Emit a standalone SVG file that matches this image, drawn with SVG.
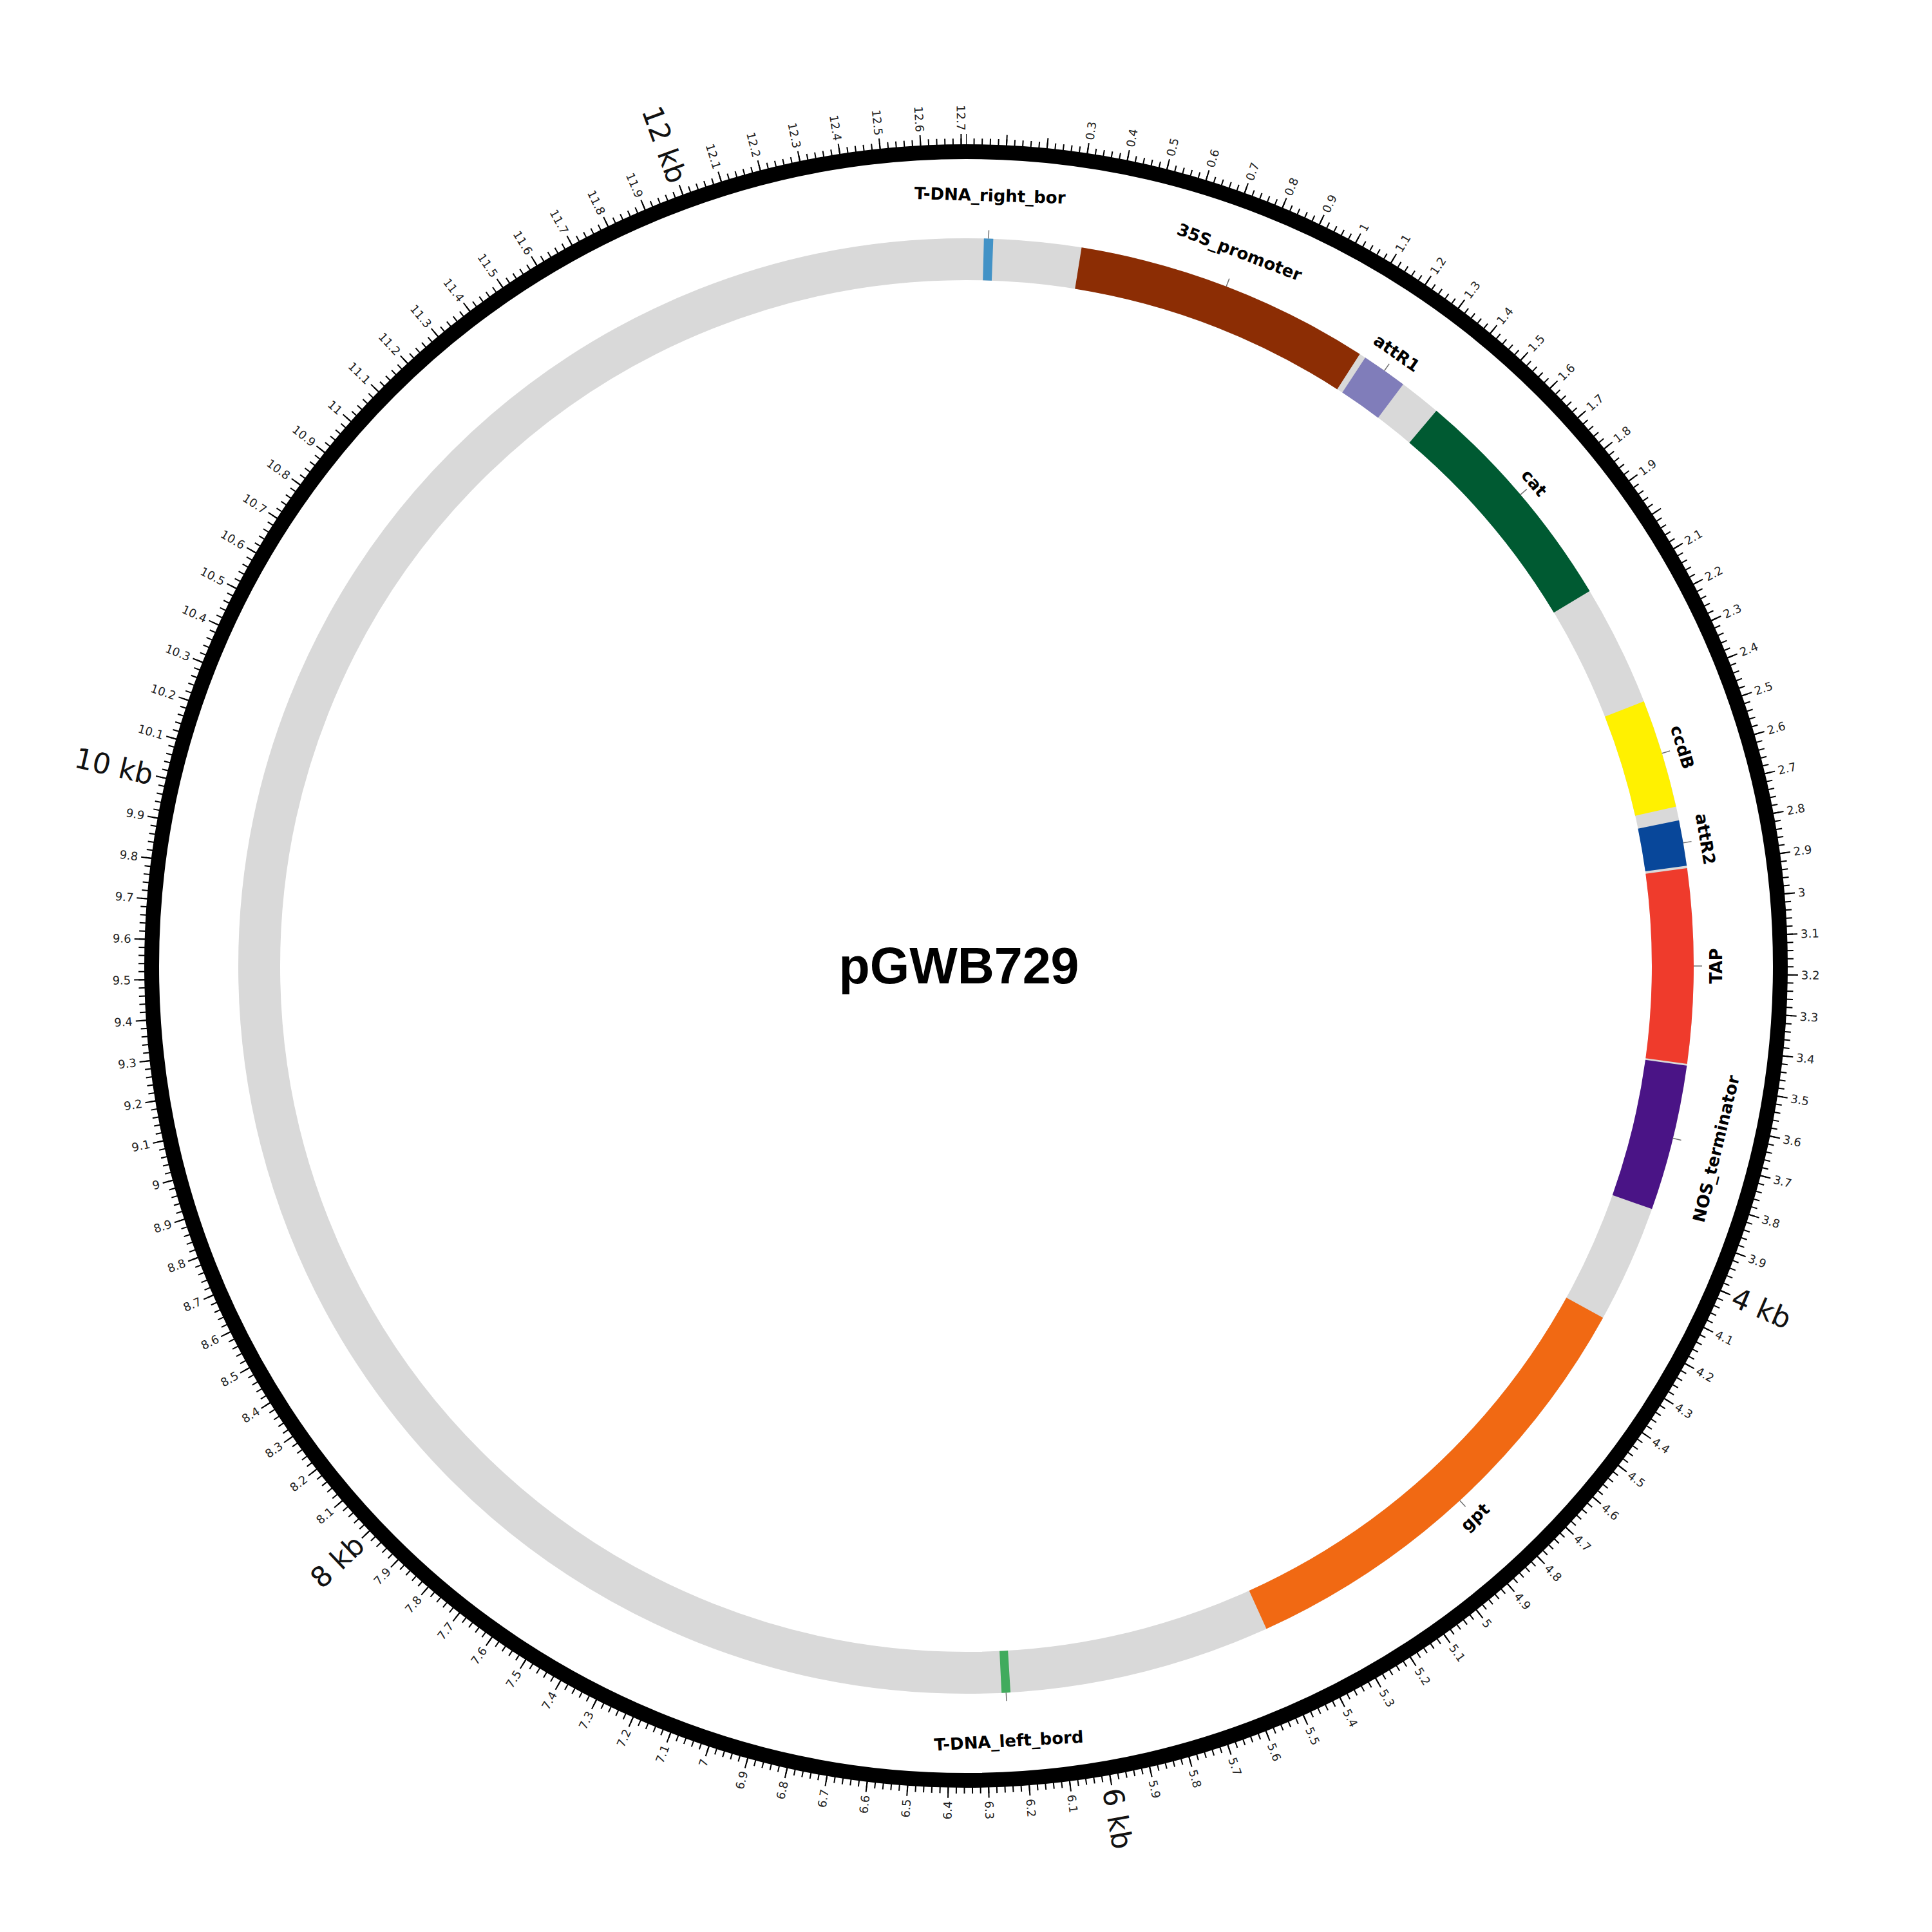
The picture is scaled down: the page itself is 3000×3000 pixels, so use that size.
<svg xmlns="http://www.w3.org/2000/svg" width="3000" height="3000" viewBox="0 0 3000 3000">
<style>
.tl{font-family:"DejaVu Sans",sans-serif;font-size:18px;fill:#222;dominant-baseline:central}
.r{text-anchor:start}
.l{text-anchor:end}
.kb{font-family:"DejaVu Sans",sans-serif;font-size:44px;fill:#111;dominant-baseline:central}
.fl{font-family:"DejaVu Sans",sans-serif;font-size:26px;font-weight:bold;fill:#000;text-anchor:middle;dominant-baseline:central}
.arc{fill:none;stroke-width:65}
.lead{stroke:#707070;stroke-width:1.5}
</style>
<rect width="3000" height="3000" fill="#ffffff"/>
<g transform="translate(1500,1500)">
<g id="axis">
<circle r="1264.5" fill="none" stroke="#000" stroke-width="23"/>
<circle r="1279" fill="none" stroke="#000" stroke-width="12" pathLength="12712" stroke-dasharray="3.16 16.84" stroke-dashoffset="1.58" transform="rotate(-90)"/>
<circle r="1282.5" fill="none" stroke="#000" stroke-width="19" pathLength="12712" stroke-dasharray="3.16 96.84" stroke-dashoffset="1.58" transform="rotate(-90)"/>
<g id="tick-labels">
<text class="tl r" x="1297" transform="rotate(-81.50)">0.3</text>
<text class="tl r" x="1297" transform="rotate(-78.67)">0.4</text>
<text class="tl r" x="1297" transform="rotate(-75.84)">0.5</text>
<text class="tl r" x="1297" transform="rotate(-73.01)">0.6</text>
<text class="tl r" x="1297" transform="rotate(-70.18)">0.7</text>
<text class="tl r" x="1297" transform="rotate(-67.34)">0.8</text>
<text class="tl r" x="1297" transform="rotate(-64.51)">0.9</text>
<text class="tl r" x="1297" transform="rotate(-61.68)">1</text>
<text class="tl r" x="1297" transform="rotate(-58.85)">1.1</text>
<text class="tl r" x="1297" transform="rotate(-56.02)">1.2</text>
<text class="tl r" x="1297" transform="rotate(-53.18)">1.3</text>
<text class="tl r" x="1297" transform="rotate(-50.35)">1.4</text>
<text class="tl r" x="1297" transform="rotate(-47.52)">1.5</text>
<text class="tl r" x="1297" transform="rotate(-44.69)">1.6</text>
<text class="tl r" x="1297" transform="rotate(-41.86)">1.7</text>
<text class="tl r" x="1297" transform="rotate(-39.02)">1.8</text>
<text class="tl r" x="1297" transform="rotate(-36.19)">1.9</text>
<text class="tl r" x="1297" transform="rotate(-30.53)">2.1</text>
<text class="tl r" x="1297" transform="rotate(-27.70)">2.2</text>
<text class="tl r" x="1297" transform="rotate(-24.86)">2.3</text>
<text class="tl r" x="1297" transform="rotate(-22.03)">2.4</text>
<text class="tl r" x="1297" transform="rotate(-19.20)">2.5</text>
<text class="tl r" x="1297" transform="rotate(-16.37)">2.6</text>
<text class="tl r" x="1297" transform="rotate(-13.54)">2.7</text>
<text class="tl r" x="1297" transform="rotate(-10.70)">2.8</text>
<text class="tl r" x="1297" transform="rotate(-7.87)">2.9</text>
<text class="tl r" x="1297" transform="rotate(-5.04)">3</text>
<text class="tl r" x="1297" transform="rotate(-2.21)">3.1</text>
<text class="tl r" x="1297" transform="rotate(0.62)">3.2</text>
<text class="tl r" x="1297" transform="rotate(3.46)">3.3</text>
<text class="tl r" x="1297" transform="rotate(6.29)">3.4</text>
<text class="tl r" x="1297" transform="rotate(9.12)">3.5</text>
<text class="tl r" x="1297" transform="rotate(11.95)">3.6</text>
<text class="tl r" x="1297" transform="rotate(14.78)">3.7</text>
<text class="tl r" x="1297" transform="rotate(17.62)">3.8</text>
<text class="tl r" x="1297" transform="rotate(20.45)">3.9</text>
<text class="tl r" x="1297" transform="rotate(26.11)">4.1</text>
<text class="tl r" x="1297" transform="rotate(28.94)">4.2</text>
<text class="tl r" x="1297" transform="rotate(31.78)">4.3</text>
<text class="tl r" x="1297" transform="rotate(34.61)">4.4</text>
<text class="tl r" x="1297" transform="rotate(37.44)">4.5</text>
<text class="tl r" x="1297" transform="rotate(40.27)">4.6</text>
<text class="tl r" x="1297" transform="rotate(43.10)">4.7</text>
<text class="tl r" x="1297" transform="rotate(45.94)">4.8</text>
<text class="tl r" x="1297" transform="rotate(48.77)">4.9</text>
<text class="tl r" x="1297" transform="rotate(51.60)">5</text>
<text class="tl r" x="1297" transform="rotate(54.43)">5.1</text>
<text class="tl r" x="1297" transform="rotate(57.26)">5.2</text>
<text class="tl r" x="1297" transform="rotate(60.09)">5.3</text>
<text class="tl r" x="1297" transform="rotate(62.93)">5.4</text>
<text class="tl r" x="1297" transform="rotate(65.76)">5.5</text>
<text class="tl r" x="1297" transform="rotate(68.59)">5.6</text>
<text class="tl r" x="1297" transform="rotate(71.42)">5.7</text>
<text class="tl r" x="1297" transform="rotate(74.25)">5.8</text>
<text class="tl r" x="1297" transform="rotate(77.09)">5.9</text>
<text class="tl r" x="1297" transform="rotate(82.75)">6.1</text>
<text class="tl r" x="1297" transform="rotate(85.58)">6.2</text>
<text class="tl r" x="1297" transform="rotate(88.41)">6.3</text>
<text class="tl l" x="-1297" transform="rotate(-88.75)">6.4</text>
<text class="tl l" x="-1297" transform="rotate(-85.92)">6.5</text>
<text class="tl l" x="-1297" transform="rotate(-83.09)">6.6</text>
<text class="tl l" x="-1297" transform="rotate(-80.26)">6.7</text>
<text class="tl l" x="-1297" transform="rotate(-77.43)">6.8</text>
<text class="tl l" x="-1297" transform="rotate(-74.59)">6.9</text>
<text class="tl l" x="-1297" transform="rotate(-71.76)">7</text>
<text class="tl l" x="-1297" transform="rotate(-68.93)">7.1</text>
<text class="tl l" x="-1297" transform="rotate(-66.10)">7.2</text>
<text class="tl l" x="-1297" transform="rotate(-63.27)">7.3</text>
<text class="tl l" x="-1297" transform="rotate(-60.43)">7.4</text>
<text class="tl l" x="-1297" transform="rotate(-57.60)">7.5</text>
<text class="tl l" x="-1297" transform="rotate(-54.77)">7.6</text>
<text class="tl l" x="-1297" transform="rotate(-51.94)">7.7</text>
<text class="tl l" x="-1297" transform="rotate(-49.11)">7.8</text>
<text class="tl l" x="-1297" transform="rotate(-46.27)">7.9</text>
<text class="tl l" x="-1297" transform="rotate(-40.61)">8.1</text>
<text class="tl l" x="-1297" transform="rotate(-37.78)">8.2</text>
<text class="tl l" x="-1297" transform="rotate(-34.95)">8.3</text>
<text class="tl l" x="-1297" transform="rotate(-32.11)">8.4</text>
<text class="tl l" x="-1297" transform="rotate(-29.28)">8.5</text>
<text class="tl l" x="-1297" transform="rotate(-26.45)">8.6</text>
<text class="tl l" x="-1297" transform="rotate(-23.62)">8.7</text>
<text class="tl l" x="-1297" transform="rotate(-20.79)">8.8</text>
<text class="tl l" x="-1297" transform="rotate(-17.95)">8.9</text>
<text class="tl l" x="-1297" transform="rotate(-15.12)">9</text>
<text class="tl l" x="-1297" transform="rotate(-12.29)">9.1</text>
<text class="tl l" x="-1297" transform="rotate(-9.46)">9.2</text>
<text class="tl l" x="-1297" transform="rotate(-6.63)">9.3</text>
<text class="tl l" x="-1297" transform="rotate(-3.80)">9.4</text>
<text class="tl l" x="-1297" transform="rotate(-0.96)">9.5</text>
<text class="tl l" x="-1297" transform="rotate(1.87)">9.6</text>
<text class="tl l" x="-1297" transform="rotate(4.70)">9.7</text>
<text class="tl l" x="-1297" transform="rotate(7.53)">9.8</text>
<text class="tl l" x="-1297" transform="rotate(10.37)">9.9</text>
<text class="tl l" x="-1297" transform="rotate(16.03)">10.1</text>
<text class="tl l" x="-1297" transform="rotate(18.86)">10.2</text>
<text class="tl l" x="-1297" transform="rotate(21.69)">10.3</text>
<text class="tl l" x="-1297" transform="rotate(24.53)">10.4</text>
<text class="tl l" x="-1297" transform="rotate(27.36)">10.5</text>
<text class="tl l" x="-1297" transform="rotate(30.19)">10.6</text>
<text class="tl l" x="-1297" transform="rotate(33.02)">10.7</text>
<text class="tl l" x="-1297" transform="rotate(35.85)">10.8</text>
<text class="tl l" x="-1297" transform="rotate(38.69)">10.9</text>
<text class="tl l" x="-1297" transform="rotate(41.52)">11</text>
<text class="tl l" x="-1297" transform="rotate(44.35)">11.1</text>
<text class="tl l" x="-1297" transform="rotate(47.18)">11.2</text>
<text class="tl l" x="-1297" transform="rotate(50.01)">11.3</text>
<text class="tl l" x="-1297" transform="rotate(52.85)">11.4</text>
<text class="tl l" x="-1297" transform="rotate(55.68)">11.5</text>
<text class="tl l" x="-1297" transform="rotate(58.51)">11.6</text>
<text class="tl l" x="-1297" transform="rotate(61.34)">11.7</text>
<text class="tl l" x="-1297" transform="rotate(64.17)">11.8</text>
<text class="tl l" x="-1297" transform="rotate(67.00)">11.9</text>
<text class="tl l" x="-1297" transform="rotate(72.67)">12.1</text>
<text class="tl l" x="-1297" transform="rotate(75.50)">12.2</text>
<text class="tl l" x="-1297" transform="rotate(78.33)">12.3</text>
<text class="tl l" x="-1297" transform="rotate(81.16)">12.4</text>
<text class="tl l" x="-1297" transform="rotate(84.00)">12.5</text>
<text class="tl l" x="-1297" transform="rotate(86.83)">12.6</text>
<text class="tl l" x="-1297" transform="rotate(89.66)">12.7</text>
</g>
<g id="kb-labels">
<text class="kb r" x="1297" transform="rotate(23.28)">4 kb</text>
<text class="kb r" x="1297" transform="rotate(79.92)">6 kb</text>
<text class="kb l" x="-1297" transform="rotate(-43.44)">8 kb</text>
<text class="kb l" x="-1297" transform="rotate(13.20)">10 kb</text>
<text class="kb l" x="-1297" transform="rotate(69.84)">12 kb</text>
</g>
</g>
<g id="track">
<circle class="arc" r="1097.5" stroke="#d9d9d9"/>
</g>
<g id="T-DNA_right_border">
<circle class="arc" r="1097.5" stroke="#4292c6" pathLength="12712" stroke-dasharray="26 40000" stroke-dashoffset="-50" transform="rotate(-90)"/>
<text class="fl" y="-1197" transform="rotate(1.78)">T-DNA_right_bor</text>
</g>
<g id="35S_promoter">
<circle class="arc" r="1097.5" stroke="#8c2d04" pathLength="12712" stroke-dasharray="834 40000" stroke-dashoffset="-323" transform="rotate(-90)"/>
<text class="fl" y="-1187" transform="rotate(20.96)">35S_promoter</text>
</g>
<g id="attR1">
<circle class="arc" r="1097.5" stroke="#807dba" pathLength="12712" stroke-dasharray="129 40000" stroke-dashoffset="-1175" transform="rotate(-90)"/>
<text class="fl" y="-1163" transform="rotate(35.10)">attR1</text>
</g>
<g id="cat">
<circle class="arc" r="1097.5" stroke="#005a32" pathLength="12712" stroke-dasharray="661 40000" stroke-dashoffset="-1422" transform="rotate(-90)"/>
<text class="fl" y="-1158" transform="rotate(49.63)">cat</text>
</g>
<g id="ccdB">
<circle class="arc" r="1097.5" stroke="#fff100" pathLength="12712" stroke-dasharray="306 40000" stroke-dashoffset="-2425" transform="rotate(-90)"/>
<text class="fl" y="-1163" transform="rotate(73.01)">ccdB</text>
</g>
<g id="attR2">
<circle class="arc" r="1097.5" stroke="#08479a" pathLength="12712" stroke-dasharray="128 40000" stroke-dashoffset="-2770" transform="rotate(-90)"/>
<text class="fl" y="-1165" transform="rotate(80.26)">attR2</text>
</g>
<g id="TAP">
<circle class="arc" r="1097.5" stroke="#ef3b2c" pathLength="12712" stroke-dasharray="546 40000" stroke-dashoffset="-2905" transform="rotate(-90)"/>
<text class="fl" y="1165" transform="rotate(-90)">TAP</text>
</g>
<g id="NOS_terminator">
<circle class="arc" r="1097.5" stroke="#4a1486" pathLength="12712" stroke-dasharray="411 40000" stroke-dashoffset="-3456" transform="rotate(-90)"/>
<text class="fl" y="1199" transform="rotate(-76.31)">NOS_terminator</text>
</g>
<g id="gpt">
<circle class="arc" r="1097.5" stroke="#f16913" pathLength="12712" stroke-dasharray="1296 40000" stroke-dashoffset="-4199" transform="rotate(-90)"/>
<text class="fl" y="1165" transform="rotate(-42.73)">gpt</text>
</g>
<g id="T-DNA_left_border">
<circle class="arc" r="1097.5" stroke="#41ab5d" pathLength="12712" stroke-dasharray="25 40000" stroke-dashoffset="-6232" transform="rotate(-90)"/>
<text class="fl" y="1205" transform="rotate(-3.16)">T-DNA_left_bord</text>
</g>
<g id="connectors">
<line class="lead" x1="0" y1="-1130" x2="0" y2="-1143" transform="rotate(1.78)"/>
<line class="lead" x1="0" y1="-1130" x2="0" y2="-1143" transform="rotate(20.96)"/>
<line class="lead" x1="0" y1="-1130" x2="0" y2="-1143" transform="rotate(35.10)"/>
<line class="lead" x1="0" y1="-1130" x2="0" y2="-1143" transform="rotate(49.63)"/>
<line class="lead" x1="0" y1="-1130" x2="0" y2="-1143" transform="rotate(73.01)"/>
<line class="lead" x1="0" y1="-1130" x2="0" y2="-1143" transform="rotate(80.26)"/>
<line class="lead" x1="0" y1="-1130" x2="0" y2="-1143" transform="rotate(90.00)"/>
<line class="lead" x1="0" y1="-1130" x2="0" y2="-1143" transform="rotate(103.69)"/>
<line class="lead" x1="0" y1="-1130" x2="0" y2="-1143" transform="rotate(137.27)"/>
<line class="lead" x1="0" y1="-1130" x2="0" y2="-1143" transform="rotate(176.84)"/>
</g>
</g>
<text id="title" x="1489" y="1527" font-family="'Liberation Sans', Arial, sans-serif" font-weight="bold" font-size="79" text-anchor="middle" fill="#000">pGWB729</text>
</svg>
